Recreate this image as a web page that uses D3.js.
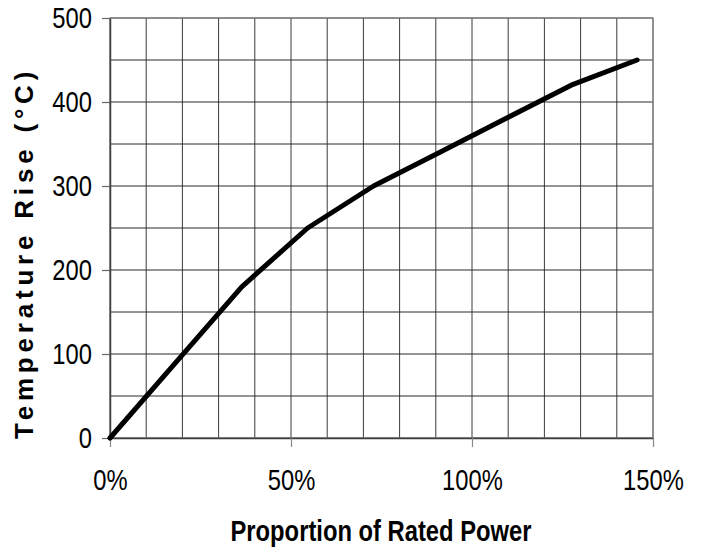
<!DOCTYPE html>
<html>
<head>
<meta charset="utf-8">
<script src="https://cdn.jsdelivr.net/npm/d3@7"></script>
<style>
  html, body { margin: 0; padding: 0; background: #fff; }
  svg { display: block; }
</style>
</head>
<body>
<div id="chart"></div>
<script>
// ---- data ----
const powerPct = [0, 18.2, 36.4, 54.6, 72.8, 91, 109.2, 127.4, 145.6];
const tempRise = [0, 90, 180, 250, 300, 340, 380, 420, 450];
const xTickValues = [0, 50, 100, 150];
const xTickLabels = ["0%", "50%", "100%", "150%"];
const yTickValues = [0, 100, 200, 300, 400, 500];
const xGridValues = [0, 10, 20, 30, 40, 50, 60, 70, 80, 90, 100, 110, 120, 130, 140, 150];
const yGridValues = [0, 50, 100, 150, 200, 250, 300, 350, 400, 450, 500];
const xTitle = "Proportion of Rated Power";
const yTitle = "Temperature Rise (°C)";

// ---- layout ----
const W = 701, H = 553;
const m = { left: 110, top: 18, right: 48, bottom: 115 };
const iw = W - m.left - m.right, ih = H - m.top - m.bottom;
const font = "'Liberation Sans Narrow', 'Arial Narrow', 'Liberation Sans', Arial, sans-serif";
const wide = "'Liberation Sans', Arial, sans-serif";
const squeeze = 0.82;

const svg = d3.select("#chart").append("svg").attr("width", W).attr("height", H);
const g = svg.append("g").attr("transform", `translate(${m.left},${m.top})`);

const x = d3.scaleLinear().domain([0, 150]).range([0, iw]);
const y = d3.scaleLinear().domain([0, 500]).range([ih, 0]);

// grid
g.append("g").selectAll("line").data(xGridValues).join("line")
  .attr("x1", d => x(d)).attr("x2", d => x(d)).attr("y1", 0).attr("y2", ih)
  .attr("stroke", "#3a3a3a").attr("stroke-width", 1);
g.append("g").selectAll("line").data(yGridValues).join("line")
  .attr("x1", 0).attr("x2", iw).attr("y1", d => y(d)).attr("y2", d => y(d))
  .attr("stroke", "#2a2a2a").attr("stroke-width", 1);

// border (top/right gray)
g.append("rect").attr("x", 0).attr("y", 0).attr("width", iw).attr("height", ih)
  .attr("fill", "none").attr("stroke", "#888").attr("stroke-width", 1.2);

function narrowText(sel) {
  sel.each(function () {
    const t = d3.select(this);
    const x0 = +t.attr("x") || 0;
    t.attr("x", x0 / squeeze).attr("transform", `scale(${squeeze},1)`);
  });
}

// axes
const xAxis = d3.axisBottom(x).tickValues(xTickValues)
  .tickFormat((d, i) => xTickLabels[i]).tickSize(9).tickPadding(22).tickSizeOuter(0);
const gx = g.append("g").attr("transform", `translate(0,${ih})`).call(xAxis);
gx.select(".domain").attr("stroke", "#404040").attr("stroke-width", 1.5);
gx.selectAll(".tick line").attr("stroke", "#888").attr("stroke-width", 1.2);
gx.selectAll(".tick text").attr("font-family", font).attr("font-size", 29).attr("fill", "#000")
  .call(narrowText);

const yAxis = d3.axisLeft(y).tickValues(yTickValues).tickSize(8).tickPadding(10).tickSizeOuter(0);
const gy = g.append("g").call(yAxis);
gy.select(".domain").attr("stroke", "#404040").attr("stroke-width", 1.5);
gy.selectAll(".tick line").attr("stroke", "#666").attr("stroke-width", 1.2);
gy.selectAll(".tick text").attr("font-family", font).attr("font-size", 29).attr("fill", "#000")
  .call(narrowText);

// line
const pts = powerPct.map((p, i) => [p, tempRise[i]]);
g.append("path").datum(pts)
  .attr("fill", "none").attr("stroke", "#000").attr("stroke-width", 5)
  .attr("stroke-linejoin", "round").attr("stroke-linecap", "round")
  .attr("d", d3.line().x(d => x(d[0])).y(d => y(d[1])));

// titles
svg.append("text").attr("transform", `translate(381,541) scale(${squeeze},1)`)
  .attr("text-anchor", "middle")
  .attr("font-family", font).attr("font-weight", "bold").attr("font-size", 29)
  .text(xTitle);
svg.append("text").attr("transform", "translate(33,253) rotate(-90)")
  .attr("text-anchor", "middle").attr("font-family", wide).attr("font-weight", "bold")
  .attr("font-size", 26).attr("letter-spacing", 4.8).text(yTitle);
</script>
</body>
</html>
